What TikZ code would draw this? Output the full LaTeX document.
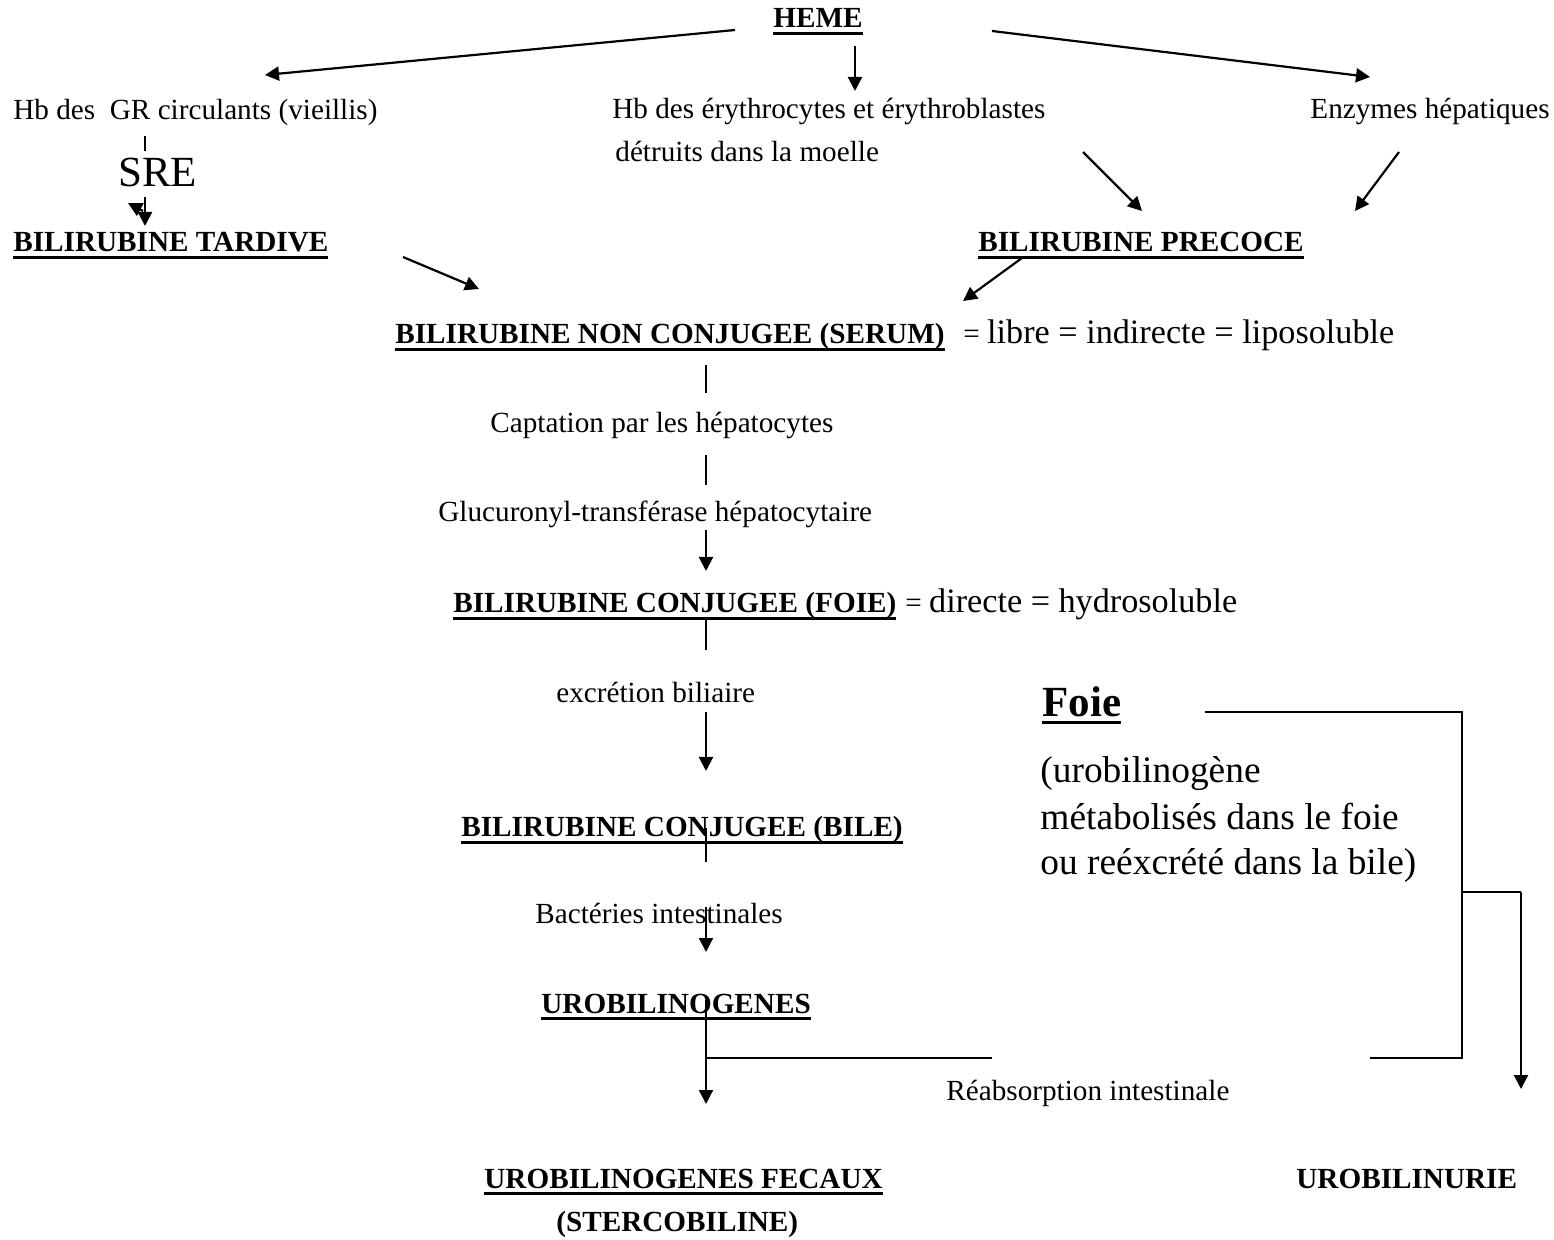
\documentclass[tikz,border=0pt]{standalone}
\usepackage{fontspec}
\setmainfont{Liberation Serif}
\usetikzlibrary{arrows.meta}
\newcommand\ulb[1]{\setbox0\hbox{#1}\rlap{\rule[-3.4pt]{\wd0}{1.3pt}}\box0}
\newcommand\fN{\fontsize{14.6}{17.5}\selectfont}
\newcommand\fL{\fontsize{17.1}{20}\selectfont}
\newcommand\fSRE{\fontsize{21.5}{25}\selectfont}
\newcommand\fP{\fontsize{18.7}{22.5}\selectfont}
\newcommand\fF{\fontsize{21.5}{25}\selectfont}
\begin{document}
\begin{tikzpicture}[x=0.5pt,y=-0.5pt,
  lbl/.style={inner sep=0pt,anchor=base west,font=\fN},
  blbl/.style={inner sep=0pt,anchor=base west,font=\fN\bfseries},
  arr/.style={line width=1.1pt,-{Triangle[length=7pt,width=7pt]}},
  ln/.style={line width=0.6pt},
  lnb/.style={line width=0.9pt}]
\useasboundingbox (0,0) rectangle (1554,1240);
\fill[white] (0,0) rectangle (1554,1240);
% texts
\node[blbl] (heme) at (773,28) {\ulb{HEME}};
\node[lbl] (hbgr) at (13,120) {Hb des~ GR circulants (vieillis)};
\node[lbl] (hbery) at (612,119) {Hb des érythrocytes et érythroblastes};
\node[lbl] (detr) at (615,162) {détruits dans la moelle};
\node[lbl] (enz) at (1310,119) {Enzymes hépatiques};
\node[lbl,font=\fSRE] (sre) at (118,187) {SRE};
\node[blbl] (tard) at (13,252) {\ulb{BILIRUBINE TARDIVE}};
\node[blbl] (prec) at (978,252) {\ulb{BILIRUBINE PRECOCE}};
\node[blbl] (serum) at (395,344) {\ulb{BILIRUBINE NON CONJUGEE (SERUM)}};
\node[lbl] (libre) at (963,344) {= {\fL libre = indirecte = liposoluble}};
\node[lbl] (capt) at (490,433) {Captation par les hépatocytes};
\node[lbl] (gluc) at (438,522) {Glucuronyl-transférase hépatocytaire};
\node[blbl] (foiec) at (453,613) {\ulb{BILIRUBINE CONJUGEE (FOIE)}};
\node[lbl] (direc) at (905,613) {= {\fL directe = hydrosoluble}};
\node[lbl] (excr) at (556,703) {excrétion biliaire};
\node[blbl,font=\fF\bfseries] (foie) at (1042,717) {\ulb{Foie}};
\node[lbl,font=\fP] (par1) at (1040,783) {(urobilinogène};
\node[lbl,font=\fP] (par2) at (1040,829) {métabolisés dans le foie};
\node[lbl,font=\fP] (par3) at (1040,874) {ou reéxcrété dans la bile)};
\node[blbl] (bile) at (461,837) {\ulb{BILIRUBINE CONJUGEE (BILE)}};
\node[lbl] (bact) at (535,923) {Bactéries intestinales};
\node[blbl] (urob) at (541,1013) {\ulb{UROBILINOGENES}};
\node[lbl] (reab) at (946,1100) {Réabsorption intestinale};
\node[blbl] (fec) at (484,1188) {\ulb{UROBILINOGENES FECAUX}};
\node[blbl] (sterc) at (556,1231) {(STERCOBILINE)};
\node[blbl] (urin) at (1296,1188) {UROBILINURIE};
% coordinates
\coordinate (hL0) at (735,30);  \coordinate (hL1) at (265,75);
\coordinate (hD0) at (855,46);  \coordinate (hD1) at (855,91);
\coordinate (hR0) at (992,31);  \coordinate (hR1) at (1370,77);
\coordinate (t0) at (145,136);  \coordinate (t1) at (145,151);
\coordinate (s0) at (145,197);  \coordinate (s1) at (145,226);
\coordinate (s2) at (143,211);  \coordinate (s3) at (128,203);
\coordinate (ta0) at (403,257); \coordinate (ta1) at (479,289);
\coordinate (e0) at (1083,152); \coordinate (e1) at (1142,211);
\coordinate (z0) at (1399,152); \coordinate (z1) at (1355,211);
\coordinate (p0) at (1022,258); \coordinate (p1) at (963,301);
\coordinate (v1a) at (706,365); \coordinate (v1b) at (706,393);
\coordinate (v2a) at (706,455); \coordinate (v2b) at (706,485);
\coordinate (v3a) at (706,530); \coordinate (v3b) at (706,571);
\coordinate (v4a) at (706,620); \coordinate (v4b) at (706,650);
\coordinate (v5a) at (706,712); \coordinate (v5b) at (706,771);
\coordinate (v6a) at (706,828); \coordinate (v6b) at (706,862);
\coordinate (v7a) at (706,907); \coordinate (v7b) at (706,952);
\coordinate (v8a) at (706,1000); \coordinate (v8b) at (706,1104);
\coordinate (rA) at (706,1058); \coordinate (rB) at (992,1058);
\coordinate (rC) at (1370,1058); \coordinate (rD) at (1462,1058);
\coordinate (rE) at (1462,712); \coordinate (rF) at (1205,712);
\coordinate (rG) at (1462,892); \coordinate (rH) at (1521,892);
\coordinate (rI) at (1521,1089);
% connectors
\draw[arr] (hL0) -- (hL1);
\draw[arr] (hD0) -- (hD1);
\draw[arr] (hR0) -- (hR1);
\draw[ln] (t0) -- (t1);
\draw[arr] (s0) -- (s1);
\draw[arr] (s2) -- (s3);
\draw[arr] (ta0) -- (ta1);
\draw[arr] (e0) -- (e1);
\draw[arr] (z0) -- (z1);
\draw[arr] (p0) -- (p1);
\draw[ln] (v1a) -- (v1b);
\draw[ln] (v2a) -- (v2b);
\draw[arr] (v3a) -- (v3b);
\draw[ln] (v4a) -- (v4b);
\draw[arr] (v5a) -- (v5b);
\draw[ln] (v6a) -- (v6b);
\draw[arr] (v7a) -- (v7b);
\draw[arr] (v8a) -- (v8b);
\draw[lnb] (rA) -- (rB);
\draw[lnb] (rC) -- (rD) -- (rE) -- (rF);
\draw[lnb] (rG) -- (rH);
\draw[arr] (rH) -- (rI);
\end{tikzpicture}
\end{document}
